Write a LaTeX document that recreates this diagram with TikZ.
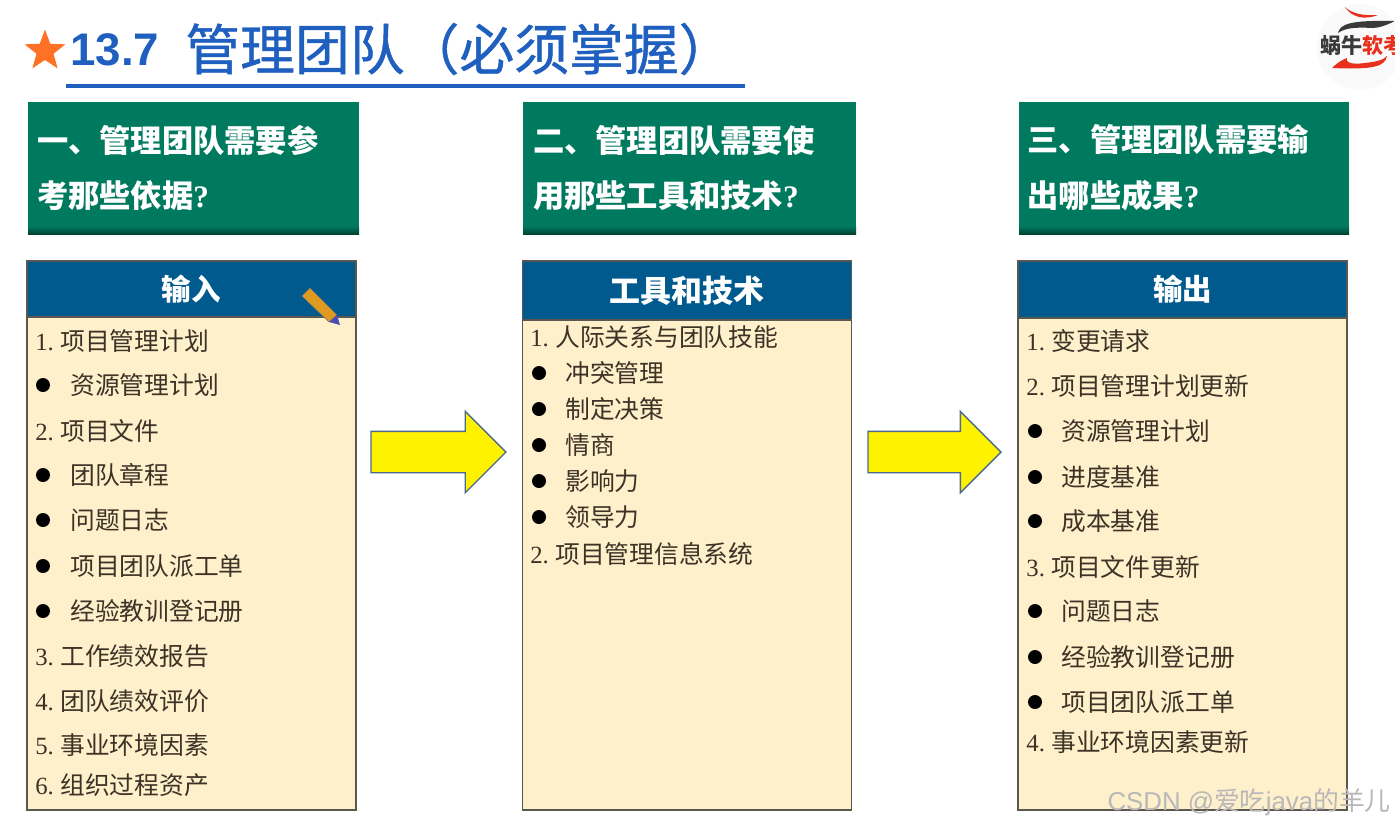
\documentclass[tikz,border=0pt]{standalone}
\usepackage{fontspec}
\setmainfont{Noto Sans CJK SC}
\newfontfamily\latinfont{Liberation Serif}
\newfontfamily\titlefont{Liberation Sans}
\newfontfamily\titlecjk[FakeBold=0.8]{Noto Sans CJK SC}
\usetikzlibrary{shapes.geometric,shapes.arrows}
\definecolor{askgreen}{HTML}{007A5E}
\definecolor{headblue}{HTML}{005A8E}
\definecolor{bodycream}{HTML}{FFF0CC}
\definecolor{edgegrey}{HTML}{5C5850}
\definecolor{itemtext}{HTML}{3C3226}
\definecolor{titleblue}{HTML}{1F5FBF}
\definecolor{logored}{HTML}{E8301C}
\definecolor{logodark}{HTML}{3A3A3A}
\definecolor{arrowedge}{HTML}{4A6A8C}
\definecolor{arrowfill}{HTML}{FFF200}
\definecolor{pencilbody}{HTML}{E09A20}
\tikzset{
  askbox/.style={fill=askgreen, text=white, minimum width=6.62cm, minimum height=2.64cm, inner sep=0.18cm, outer sep=0pt, align=left, text width=6.26cm, font=\fontsize{17.8}{31.7}\selectfont\bfseries},
  bodybox/.style={draw=edgegrey, line width=0.9pt, fill=bodycream, minimum width=6.58cm, minimum height=10.98cm, outer sep=0pt, inner sep=0pt},
  headbox/.style={draw=edgegrey, line width=0.9pt, fill=headblue, text=white, minimum width=6.58cm, outer sep=0pt, inner sep=0pt, font=\fontsize{16.8}{20}\selectfont\bfseries},
  listitem/.style={anchor=west, inner sep=0pt, text=itemtext, font=\fontsize{14.1}{16}\selectfont},
  bulletdot/.style={circle, fill=black, minimum size=0.28cm, inner sep=0pt},
  bigarrow/.style={single arrow, draw=arrowedge, fill=arrowfill, line width=0.8pt, minimum height=2.7cm, single arrow head extend=0.4cm, shape border rotate=0, inner xsep=0pt, inner ysep=0.4cm, outer sep=0pt, anchor=west}
}
\begin{document}
\begin{tikzpicture}[x=0.02cm, y=-0.02cm]
  \useasboundingbox (0,0) rectangle (1395,825);
  \fill[white] (0,0) rectangle (1395,825);

  % title
  \node[star, star points=5, star point ratio=2.4, fill=orange!70!red!85, minimum size=0.86cm, inner sep=0pt] (titlestar) at (45,51) {};
  \node[anchor=west, inner sep=0pt, text=titleblue, font=\fontsize{26}{30}\titlefont\bfseries] (titlenum) at (70,50) {13.7};
  \node[anchor=west, inner sep=0pt, text=titleblue, font=\fontsize{31.2}{34}\titlecjk] (titletext) at (185,49) {管理团队（必须掌握）};
  \coordinate (ruleleft) at (66,86);
  \coordinate (ruleright) at (745,86);
  \draw[titleblue, line width=1.8pt] (ruleleft) -- (ruleright);

  % logo
  \begin{scope}
    \clip (1360,47) circle (43);
    \fill[black!2] (1360,47) circle (43);
    \fill[logored] (1345,7) .. controls (1352,14) and (1365,16) .. (1378,15) .. controls (1365,20) and (1352,18) .. (1345,7);
    \fill[logodark] (1338,33) .. controls (1340,24) and (1350,20) .. (1395,21) .. controls (1385,26) and (1378,28) .. (1372,28) .. controls (1355,27) and (1345,28) .. (1338,33);
    \fill[logored] (1332,68) .. controls (1338,62) and (1342,60) .. (1347,58) .. controls (1345,62) and (1350,65) .. (1365,63) .. controls (1375,62) and (1384,60) .. (1387,56) .. controls (1385,66) and (1375,70) .. (1332,68);
    \node[anchor=west, inner sep=0pt, font=\fontsize{12}{14}\selectfont\bfseries, text=logodark] (logoname) at (1320,45) {蜗牛\textcolor{logored}{软考}};
  \end{scope}

  % question boxes
  \node[askbox] (askinput) at (193.5,168) {一、管理团队需要参\\考那些依据{\latinfont ?}};
  \node[askbox, minimum width=6.66cm] (asktools) at (689.5,168) {二、管理团队需要使\\用那些工具和技术{\latinfont ?}};
  \node[askbox] (askoutput) at (1184,168) {三、管理团队需要输\\出哪些成果{\latinfont ?}};
  \shade[top color=askgreen, bottom color=askgreen!55!black] (28,226) rectangle (359,234);
  \shade[top color=askgreen, bottom color=askgreen!55!black] (523,226) rectangle (856,234);
  \shade[top color=askgreen, bottom color=askgreen!55!black] (1019,226) rectangle (1349,234);

  % panels
  \node[bodybox] (bodyinput) at (191.5,535.5) {};
  \node[bodybox] (bodytools) at (687,535.5) {};
  \node[bodybox] (bodyoutput) at (1182.5,535.5) {};
  \node[headbox, minimum height=1.12cm] (headinput) at (191.5,289) {输入};
  \node[headbox, minimum height=1.18cm, font=\fontsize{17.6}{20}\selectfont\bfseries] (headtools) at (687,290.5) {工具和技术};
  \node[headbox, minimum height=1.14cm] (headoutput) at (1182.5,289.5) {输出};

  % pencil
  \fill[pencilbody, draw=black!55, line width=0.3pt] (302,296) -- (310,288) -- (337,315) -- (329,322) -- cycle;
  \fill[blue!40!gray] (329,322) -- (337,315) -- (340,325) -- cycle;

  % input list
  \node[listitem] (in1) at (35,341) {{\latinfont 1.}\hspace{3.6pt}项目管理计划};
  \node[bulletdot] (in1a) at (43,385) {};
  \node[listitem] (in1at) at (70,385) {资源管理计划};
  \node[listitem] (in2) at (35,431) {{\latinfont 2.}\hspace{3.6pt}项目文件};
  \node[bulletdot] (in2a) at (43,475) {};
  \node[listitem] (in2at) at (70,475) {团队章程};
  \node[bulletdot] (in2b) at (43,520) {};
  \node[listitem] (in2bt) at (70,520) {问题日志};
  \node[bulletdot] (in2c) at (43,566) {};
  \node[listitem] (in2ct) at (70,566) {项目团队派工单};
  \node[bulletdot] (in2d) at (43,611) {};
  \node[listitem] (in2dt) at (70,611) {经验教训登记册};
  \node[listitem] (in3) at (35,656) {{\latinfont 3.}\hspace{3.6pt}工作绩效报告};
  \node[listitem] (in4) at (35,701) {{\latinfont 4.}\hspace{3.6pt}团队绩效评价};
  \node[listitem] (in5) at (35,745) {{\latinfont 5.}\hspace{3.6pt}事业环境因素};
  \node[listitem] (in6) at (35,785) {{\latinfont 6.}\hspace{3.6pt}组织过程资产};

  % tools list
  \node[listitem] (tool1) at (530,337) {{\latinfont 1.}\hspace{3.6pt}人际关系与团队技能};
  \node[bulletdot] (tool1a) at (539,373) {};
  \node[listitem] (tool1at) at (565,373) {冲突管理};
  \node[bulletdot] (tool1b) at (539,409) {};
  \node[listitem] (tool1bt) at (565,409) {制定决策};
  \node[bulletdot] (tool1c) at (539,445) {};
  \node[listitem] (tool1ct) at (565,445) {情商};
  \node[bulletdot] (tool1d) at (539,481) {};
  \node[listitem] (tool1dt) at (565,481) {影响力};
  \node[bulletdot] (tool1e) at (539,517) {};
  \node[listitem] (tool1et) at (565,517) {领导力};
  \node[listitem] (tool2) at (530,554) {{\latinfont 2.}\hspace{3.6pt}项目管理信息系统};

  % output list
  \node[listitem] (out1) at (1026,341) {{\latinfont 1.}\hspace{3.6pt}变更请求};
  \node[listitem] (out2) at (1026,386) {{\latinfont 2.}\hspace{3.6pt}项目管理计划更新};
  \node[bulletdot] (out2a) at (1035,431) {};
  \node[listitem] (out2at) at (1061,431) {资源管理计划};
  \node[bulletdot] (out2b) at (1035,477) {};
  \node[listitem] (out2bt) at (1061,477) {进度基准};
  \node[bulletdot] (out2c) at (1035,521) {};
  \node[listitem] (out2ct) at (1061,521) {成本基准};
  \node[listitem] (out3) at (1026,567) {{\latinfont 3.}\hspace{3.6pt}项目文件更新};
  \node[bulletdot] (out3a) at (1035,611) {};
  \node[listitem] (out3at) at (1061,611) {问题日志};
  \node[bulletdot] (out3b) at (1035,657) {};
  \node[listitem] (out3bt) at (1061,657) {经验教训登记册};
  \node[bulletdot] (out3c) at (1035,702) {};
  \node[listitem] (out3ct) at (1061,702) {项目团队派工单};
  \node[listitem] (out4) at (1026,742) {{\latinfont 4.}\hspace{3.6pt}事业环境因素更新};

  % arrows between panels
  \node[bigarrow] (arrowone) at (371,452) {};
  \node[bigarrow, minimum height=2.66cm] (arrowtwo) at (868,452) {};

  % watermark
  \node[anchor=east, inner sep=0pt, text=black!28, font=\fontsize{14.7}{16}\selectfont] (watermark) at (1391,802) {{\titlefont CSDN @}爱吃{\titlefont java}的羊儿};
\end{tikzpicture}
\end{document}
